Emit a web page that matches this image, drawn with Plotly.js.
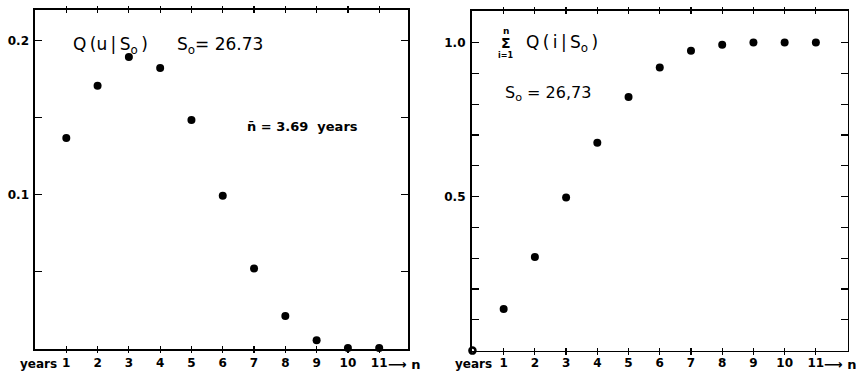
<!DOCTYPE html>
<html>
<head>
<meta charset="utf-8">
<script src="https://cdn.plot.ly/plotly-3.0.1.min.js"></script>
<style>html,body{margin:0;padding:0;background:#fff;}#chart{width:856px;height:371px;}</style>
</head>
<body>
<div id="chart"></div>
<script>
// Left panel: Q(u|So) per year
const years = [1, 2, 3, 4, 5, 6, 7, 8, 9, 10, 11];
const qValues = [0.1367, 0.1706, 0.1892, 0.1821, 0.1484, 0.0993, 0.0522, 0.0214, 0.0056, 0.0006, 0.0006];
// Right panel: cumulative sum
const cumYears = [1, 2, 3, 4, 5, 6, 7, 8, 9, 10, 11];
const cumValues = [0.135, 0.304, 0.497, 0.675, 0.823, 0.919, 0.973, 0.993, 1.0, 1.0, 1.0];
const originX = [0];
const originY = [0];
// Ticks
const xTicks = [1, 2, 3, 4, 5, 6, 7, 8, 9, 10, 11];
const xTickText = ["1", "2", "3", "4", "5", "6", "7", "8", "9", "10", "11"];
const leftYTicks = [0.1, 0.2];
const leftYText = ["0.1", "0.2"];
const leftYMinor = [0.05, 0.15];
const rightYTicks = [0.5, 1.0];
const rightYText = ["0.5", "1.0"];
const rightYMinor = [0.1, 0.2, 0.3, 0.4, 0.6, 0.7, 0.8, 0.9];

const tickFont = {family: "DejaVu Sans", size: 12, color: "#000", weight: "bold"};
const mk = {color: "#000", size: 8};

const traces = [
  {x: years, y: qValues, type: "scatter", mode: "markers", marker: mk, xaxis: "x", yaxis: "y", cliponaxis: false, hoverinfo: "none"},
  {x: cumYears, y: cumValues, type: "scatter", mode: "markers", marker: mk, xaxis: "x2", yaxis: "y2", cliponaxis: false, hoverinfo: "none"},
  {x: originX, y: originY, type: "scatter", mode: "markers", marker: {symbol: "circle-open", color: "#000", size: 6, line: {width: 2.5, color: "#000"}}, xaxis: "x2", yaxis: "y2", cliponaxis: false, hoverinfo: "none"},
  {x: [], y: [], type: "scatter", xaxis: "x3", yaxis: "y", hoverinfo: "none"},
  {x: [], y: [], type: "scatter", xaxis: "x4", yaxis: "y2", hoverinfo: "none"}
];

const baseX = {
  tickmode: "array", tickvals: xTicks, ticktext: xTickText,
  ticks: "inside", ticklen: 3, tickwidth: 1.2, tickcolor: "#000",
  showline: true, linecolor: "#000", linewidth: 1.6, mirror: "ticks",
  showgrid: false, zeroline: false, tickfont: tickFont, ticklabelstandoff: 2,
  fixedrange: true
};
const overX = {
  tickmode: "array", tickvals: xTicks, ticks: "outside", ticklen: 3, tickwidth: 1.2, tickcolor: "#000",
  showline: false, mirror: "ticks", showticklabels: false, showgrid: false, zeroline: false
};
const baseY = {
  tickmode: "array", ticks: "inside", ticklen: 7, tickwidth: 1.2, tickcolor: "#000",
  showline: true, linecolor: "#000", linewidth: 1.6, mirror: "ticks",
  showgrid: false, zeroline: false, tickfont: tickFont, ticklabelstandoff: 2,
  fixedrange: true
};
const minorY = (vals) => ({tickmode: "array", tickvals: vals, ticks: "inside", ticklen: 7, tickwidth: 1.2, tickcolor: "#000", showgrid: false});

const leftXRange = [0, 11.93];
const rightXRange = [-0.03, 12.02];
const annFont = {family: "DejaVu Sans", size: 17, color: "#000"};
const smallBold = {family: "DejaVu Sans", size: 12, color: "#000", weight: "bold"};
const ts = "\u2009";

const layout = {
  width: 856, height: 371,
  margin: {l: 0, r: 0, t: 0, b: 0},
  paper_bgcolor: "#fff", plot_bgcolor: "#fff",
  showlegend: false,
  xaxis: Object.assign({}, baseX, {domain: [35 / 856, 408.3 / 856], range: leftXRange, anchor: "y"}),
  yaxis: Object.assign({}, baseY, {domain: [(371 - 349) / 371, (371 - 10) / 371], range: [0, 0.2197], tickvals: leftYTicks, ticktext: leftYText, minor: minorY(leftYMinor), anchor: "x"}),
  xaxis2: Object.assign({}, baseX, {domain: [471.5 / 856, 847.7 / 856], range: rightXRange, anchor: "y2", ticklabelstandoff: 0}),
  yaxis2: Object.assign({}, baseY, {domain: [(371 - 350.8) / 371, (371 - 10.5) / 371], range: [-0.0006, 1.104], tickvals: rightYTicks, ticktext: rightYText, minor: minorY(rightYMinor), anchor: "x2"}),
  xaxis3: Object.assign({}, overX, {overlaying: "x", anchor: "y", range: leftXRange}),
  xaxis4: Object.assign({}, overX, {overlaying: "x2", anchor: "y2", range: rightXRange}),
  annotations: [
    {xref: "x", yref: "y", x: 1.16, y: 0.1966, xanchor: "left", yanchor: "middle", showarrow: false,
     text: "Q" + ts + "(u" + ts + "|" + ts + "S<sub>o</sub>" + ts + ")", font: annFont},
    {xref: "x", yref: "y", x: 4.48, y: 0.1966, xanchor: "left", yanchor: "middle", showarrow: false,
     text: "S<sub>o</sub>= 26.73", font: annFont},
    {xref: "x", yref: "y", x: 6.7, y: 0.1441, xanchor: "left", yanchor: "middle", showarrow: false,
     text: "n\u0304 = 3.69  years", font: {family: "DejaVu Sans", size: 13, color: "#000", weight: "bold"}},
    {xref: "x2", yref: "y2", x: 1.07, y: 1.037, xanchor: "center", yanchor: "middle", showarrow: false,
     text: "n", font: {family: "DejaVu Sans", size: 9, color: "#000", weight: "bold"}},
    {xref: "x2", yref: "y2", x: 1.07, y: 1.0, xanchor: "center", yanchor: "middle", showarrow: false,
     text: "\u03a3", font: {family: "DejaVu Sans", size: 14, color: "#000", weight: "bold"}},
    {xref: "x2", yref: "y2", x: 1.07, y: 0.958, xanchor: "center", yanchor: "middle", showarrow: false,
     text: "i=1", font: {family: "DejaVu Sans", size: 8, color: "#000", weight: "bold"}},
    {xref: "x2", yref: "y2", x: 1.66, y: 0.998, xanchor: "left", yanchor: "middle", showarrow: false,
     text: "Q" + ts + "(" + ts + "i" + ts + "|" + ts + "S<sub>o</sub>" + ts + ")", font: annFont},
    {xref: "x2", yref: "y2", x: 0.98, y: 0.836, xanchor: "left", yanchor: "middle", showarrow: false,
     text: "S<sub>o</sub> = 26,73", font: {family: "DejaVu Sans", size: 16, color: "#000"}},
    {xref: "paper", yref: "paper", x: 18 / 856, y: (371 - 364) / 371, xanchor: "left", yanchor: "middle", showarrow: false,
     text: "years", font: smallBold},
    {xref: "paper", yref: "paper", x: 453 / 856, y: (371 - 364) / 371, xanchor: "left", yanchor: "middle", showarrow: false,
     text: "years", font: smallBold},
    {xref: "paper", yref: "paper", x: 386 / 856, y: (371 - 364) / 371, xanchor: "left", yanchor: "middle", showarrow: false,
     text: "\u27f6 n", font: {family: "DejaVu Sans", size: 13, color: "#000", weight: "bold"}},
    {xref: "paper", yref: "paper", x: 822 / 856, y: (371 - 364) / 371, xanchor: "left", yanchor: "middle", showarrow: false,
     text: "\u27f6 n", font: {family: "DejaVu Sans", size: 13, color: "#000", weight: "bold"}}
  ]
};

Plotly.newPlot("chart", traces, layout, {staticPlot: true, displayModeBar: false});
</script>
</body>
</html>
